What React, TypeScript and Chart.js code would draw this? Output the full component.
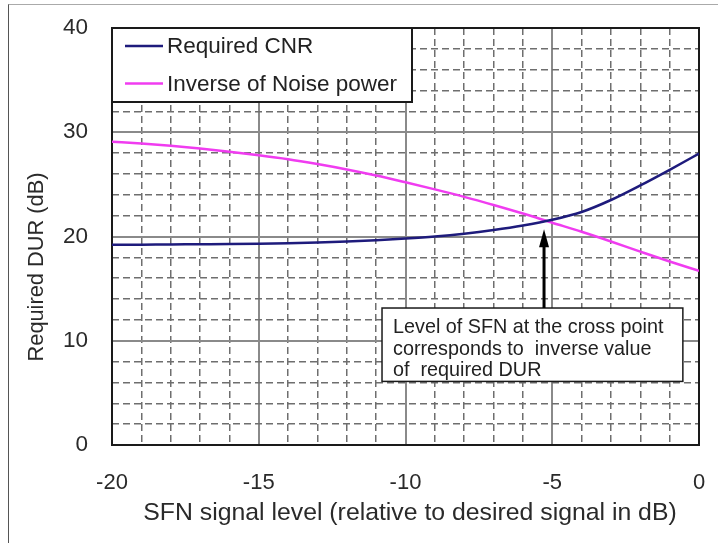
import React, { useEffect, useRef } from 'react';
import { Chart, registerables } from 'chart.js';

Chart.register(...registerables);

// ---- data ----
const sfnLevel = [-20, -19, -18, -17, -16, -15, -14, -13, -12, -11, -10, -9, -8, -7, -6, -5, -4, -3, -2, -1, 0];
const requiredCNR = [19.2, 19.22, 19.24, 19.26, 19.28, 19.31, 19.36, 19.43, 19.52, 19.64, 19.8, 20.0, 20.27, 20.62, 21.05, 21.6, 22.35, 23.5, 24.9, 26.4, 27.95];
const inverseNoisePower = [29.1, 28.92, 28.7, 28.43, 28.13, 27.8, 27.42, 26.95, 26.43, 25.85, 25.2, 24.52, 23.8, 23.02, 22.2, 21.32, 20.45, 19.52, 18.55, 17.6, 16.7];
const seriesNames = ['Required CNR', 'Inverse of Noise power'];
const seriesColors = ['#1e1b7c', '#f03cf0'];
const xTickLabels = [-20, -15, -10, -5, 0];
const yTickLabels = [0, 10, 20, 30, 40];
const xTitle = 'SFN signal level (relative to desired signal in dB)';
const yTitle = 'Required DUR (dB)';
const noteLines = ['Level of SFN at the cross point', 'corresponds to  inverse value', 'of  required DUR'];
const crossPointX = -5.28;
const arrowTipY = 20.7;
const noteBox = { x0: -10.8, x1: -0.55, yTop: 13.14, yBottom: 6.1 };

const FONT = "'Liberation Sans', Arial, Helvetica, sans-serif";

const overlayPlugin = {
  id: 'overlay',
  beforeDatasetsDraw(chart: any) {
    const { ctx, chartArea } = chart;
    ctx.save();
    ctx.strokeStyle = '#1a1a1a';
    ctx.lineWidth = 2;
    ctx.strokeRect(chartArea.left, chartArea.top, chartArea.right - chartArea.left, chartArea.bottom - chartArea.top);
    ctx.restore();
  },
  afterDatasetsDraw(chart: any) {
    const { ctx, chartArea, scales } = chart;
    const xs = scales.x;
    const ys = scales.y;
    ctx.save();

    // axis titles
    ctx.fillStyle = '#2a2a2a';
    ctx.textAlign = 'center';
    ctx.textBaseline = 'middle';
    ctx.font = `24.8px ${FONT}`;
    ctx.fillText(xTitle, 410, 513);
    ctx.save();
    ctx.translate(37, 267);
    ctx.rotate(-Math.PI / 2);
    ctx.font = `21.8px ${FONT}`;
    ctx.fillText(yTitle, 0, 0);
    ctx.restore();

    // legend box
    const lx = chartArea.left;
    const ly = chartArea.top;
    const lw = 300;
    const lh = 74;
    ctx.fillStyle = '#ffffff';
    ctx.fillRect(lx, ly, lw, lh);
    ctx.strokeStyle = '#1a1a1a';
    ctx.lineWidth = 2;
    ctx.strokeRect(lx, ly, lw, lh);
    ctx.font = `22.5px ${FONT}`;
    ctx.textBaseline = 'middle';
    ctx.textAlign = 'left';
    const rows = [ly + 18, ly + 55.5];
    chart.data.datasets.forEach((ds: any, i: number) => {
      ctx.strokeStyle = ds.borderColor;
      ctx.lineWidth = 2.5;
      ctx.beginPath();
      ctx.moveTo(lx + 13, rows[i]);
      ctx.lineTo(lx + 51, rows[i]);
      ctx.stroke();
      ctx.fillStyle = '#222222';
      ctx.fillText(ds.label, lx + 55, rows[i] + 1);
    });

    // note box
    const bx0 = xs.getPixelForValue(noteBox.x0);
    const bx1 = xs.getPixelForValue(noteBox.x1);
    const by0 = ys.getPixelForValue(noteBox.yTop);
    const by1 = ys.getPixelForValue(noteBox.yBottom);
    ctx.fillStyle = '#ffffff';
    ctx.fillRect(bx0, by0, bx1 - bx0, by1 - by0);
    ctx.strokeStyle = '#1a1a1a';
    ctx.lineWidth = 1.5;
    ctx.strokeRect(bx0, by0, bx1 - bx0, by1 - by0);
    ctx.fillStyle = '#222222';
    ctx.font = `19.8px ${FONT}`;
    ctx.textBaseline = 'middle';
    ctx.textAlign = 'left';
    noteLines.forEach((t, i) => {
      ctx.fillText(t, bx0 + 11, by0 + 20 + i * 21.5);
    });

    // arrow
    const ax = xs.getPixelForValue(crossPointX);
    const tip = ys.getPixelForValue(arrowTipY);
    ctx.strokeStyle = '#000000';
    ctx.fillStyle = '#000000';
    ctx.lineWidth = 3;
    ctx.beginPath();
    ctx.moveTo(ax, by0);
    ctx.lineTo(ax, tip + 16);
    ctx.stroke();
    ctx.beginPath();
    ctx.moveTo(ax, tip);
    ctx.lineTo(ax - 5, tip + 18);
    ctx.lineTo(ax + 5, tip + 18);
    ctx.closePath();
    ctx.fill();

    ctx.restore();
  },
};

export default function App() {
  const canvasRef = useRef<HTMLCanvasElement | null>(null);

  useEffect(() => {
    document.body.style.margin = '0';
    const canvas = canvasRef.current;
    if (!canvas) return;
    const chart = new Chart(canvas, {
      type: 'line',
      data: {
        datasets: [requiredCNR, inverseNoisePower].map((vals, i) => ({
          label: seriesNames[i],
          data: sfnLevel.map((x, j) => ({ x, y: vals[j] })),
          borderColor: seriesColors[i],
          backgroundColor: seriesColors[i],
          borderWidth: 2.5,
          pointRadius: 0,
          cubicInterpolationMode: 'monotone',
          fill: false,
        })),
      },
      options: {
        responsive: false,
        animation: false,
        events: [],
        layout: { autoPadding: false, padding: { left: 0, top: 28, right: 19, bottom: 0 } },
        plugins: {
          legend: { display: false },
          tooltip: { enabled: false },
        },
        scales: {
          x: {
            type: 'linear',
            min: -20,
            max: 0,
            afterFit: (s: any) => { s.height = 98; },
            ticks: {
              stepSize: 1,
              autoSkip: false,
              maxRotation: 0,
              padding: 0,
              color: '#2a2a2a',
              font: { family: FONT, size: 22 },
              callback: (v: any) => (xTickLabels.includes(Number(v)) ? String(v) : ''),
            },
            grid: {
              drawTicks: true,
              tickLength: 25,
              tickColor: 'rgba(0,0,0,0)',
              color: (c: any) => (c.tick && c.tick.value % 5 === 0 ? '#8a8a8a' : '#6e6e6e'),
              lineWidth: (c: any) => (c.tick && c.tick.value % 5 === 0 ? 2 : 1.5),
            },
            border: {
              display: false,
              dash: (c: any) => (c.tick && c.tick.value % 5 === 0 ? [] : [7, 4]),
            },
            title: { display: false },
          },
          y: {
            type: 'linear',
            min: 0,
            max: 40,
            afterFit: (s: any) => { s.width = 112; },
            ticks: {
              stepSize: 2,
              autoSkip: false,
              padding: 0,
              color: '#2a2a2a',
              font: { family: FONT, size: 22.5 },
              callback: (v: any) => (yTickLabels.includes(Number(v)) ? String(v) : ''),
            },
            grid: {
              drawTicks: true,
              tickLength: 24,
              tickColor: 'rgba(0,0,0,0)',
              color: (c: any) => (c.tick && c.tick.value % 10 === 0 ? '#8a8a8a' : '#6e6e6e'),
              lineWidth: (c: any) => (c.tick && c.tick.value % 10 === 0 ? 2 : 1.5),
            },
            border: {
              display: false,
              dash: (c: any) => (c.tick && c.tick.value % 10 === 0 ? [] : [7, 4]),
            },
            title: { display: false },
          },
        },
      },
      plugins: [overlayPlugin],
    } as any);
    return () => chart.destroy();
  }, []);

  return (
    <div style={{ position: 'relative', width: 718, height: 543, background: '#ffffff', overflow: 'hidden' }}>
      <canvas ref={canvasRef} width={718} height={543} style={{ display: 'block' }} />
      <div
        style={{
          position: 'absolute',
          left: 8,
          top: 4,
          width: 760,
          height: 600,
          borderLeft: '1px solid #555',
          borderTop: '1px solid #aaa',
          pointerEvents: 'none',
        }}
      />
    </div>
  );
}
